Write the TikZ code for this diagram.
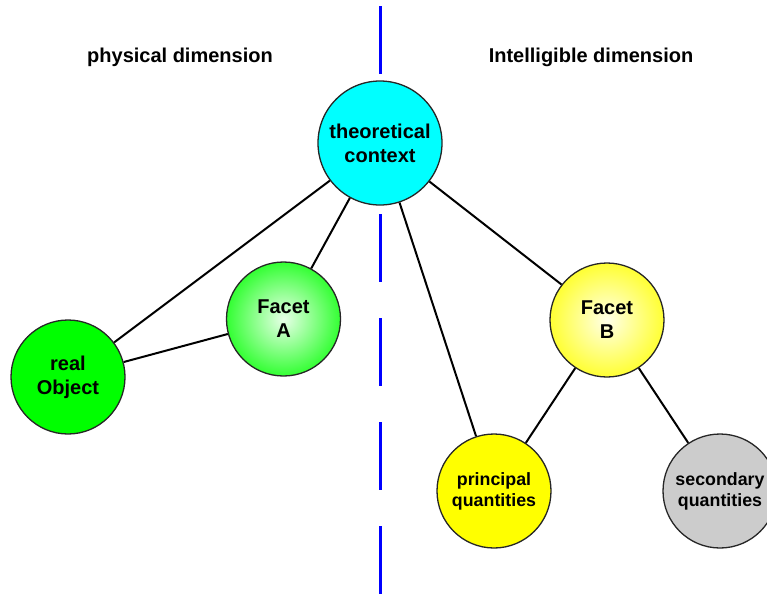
\documentclass[tikz,border=0pt]{standalone}
\usepackage{fontspec}
\setmainfont{Liberation Sans}
\definecolor{gcol}{RGB}{0,255,0}
\definecolor{glight}{RGB}{232,255,232}
\definecolor{ycol}{RGB}{255,255,0}
\definecolor{ylight}{RGB}{255,255,232}
\definecolor{ccol}{RGB}{0,255,255}
\definecolor{grcol}{RGB}{204,204,204}
\definecolor{bcol}{RGB}{0,0,255}
\pgfdeclareradialshading{greenball}{\pgfpoint{0bp}{0bp}}{color(0bp)=(glight); color(32bp)=(gcol); color(50bp)=(gcol)}
\pgfdeclareradialshading{yellowball}{\pgfpoint{0bp}{0bp}}{color(0bp)=(ylight); color(32bp)=(ycol); color(50bp)=(ycol)}
\begin{document}
\begin{tikzpicture}[x=1pt,y=-1pt,
  ball/.style={circle, draw=black!85, line width=1.3pt, minimum size=114pt, inner sep=0pt, align=center, font=\bfseries\fontsize{20}{24}\selectfont},
  smalltext/.style={font=\bfseries\fontsize{17.8}{21}\selectfont},
  link/.style={draw=black, line width=2pt},
  title/.style={font=\bfseries\fontsize{20}{24}\selectfont},
  divider/.style={draw=bcol, line width=3pt, dash pattern=on 68pt off 36pt}]
\useasboundingbox (0,0) rectangle (767,595);
\clip (0,0) rectangle (767,595);
\coordinate (top) at (380,6);
\coordinate (bot) at (380,594);
\draw[divider] (top) -- (bot);

\node[title] (phys) at (180,57.5) {physical dimension};
\node[title] (intel) at (591,57.5) {Intelligible dimension};

\node[ball, fill=ccol, minimum size=124pt] (tc) at (380,143) {theoretical\\context};
\node[ball, shade, shading=greenball] (fa) at (283.5,319) {Facet\\A};
\node[ball, fill=gcol] (ro) at (68,377) {real\\Object};
\node[ball, shade, shading=yellowball] (fb) at (607,320) {Facet\\B};
\node[ball, smalltext, fill=ycol] (pq) at (494,491) {principal\\quantities};
\node[ball, smalltext, fill=grcol] (sq) at (720,491) {secondary\\quantities};

\draw[link] (tc) -- (ro);
\draw[link] (tc) -- (fa);
\draw[link] (tc) -- (pq);
\draw[link] (tc) -- (fb);
\draw[link] (ro) -- (fa);
\draw[link] (fb) -- (pq);
\draw[link] (fb) -- (sq);
\end{tikzpicture}
\end{document}
